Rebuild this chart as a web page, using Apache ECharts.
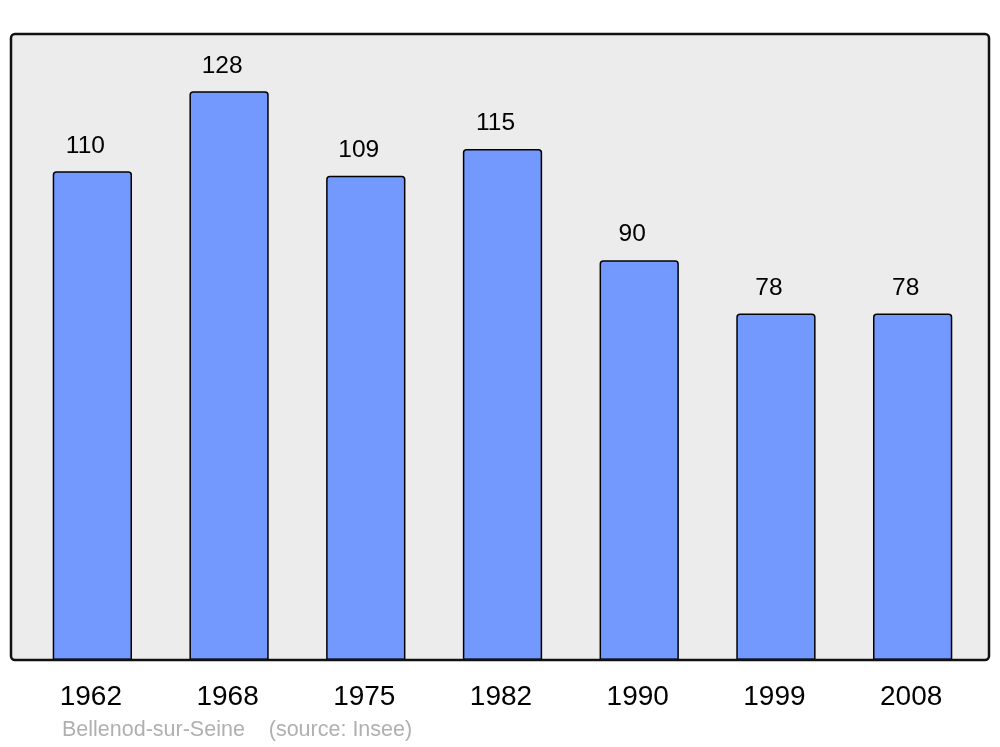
<!DOCTYPE html>
<html>
<head>
<meta charset="utf-8">
<script src="https://cdn.jsdelivr.net/npm/echarts@6/dist/echarts.min.js"></script>
<style>html,body{margin:0;padding:0;background:#fff}#c{width:1000px;height:747px}</style>
</head>
<body>
<div id="c"></div>
<script>
const years = ['1962','1968','1975','1982','1990','1999','2008'];
const population = [110,128,109,115,90,78,78];
const caption = 'Bellenod-sur-Seine    (source: Insee)';

const chart = echarts.init(document.getElementById('c'), null, {renderer:'canvas'});
chart.setOption({
  animation:false,
  backgroundColor:'#ffffff',
  textStyle:{fontFamily:'Liberation Sans, Arial, sans-serif'},
  grid:{left:24,right:19,top:34,bottom:87},
  xAxis:{
    type:'category', data:years,
    axisLine:{show:false}, axisTick:{show:false},
    axisLabel:{fontSize:28,color:'#000',margin:23,padding:[0,3,0,0],fontFamily:'Liberation Sans, Arial, sans-serif'}
  },
  yAxis:{type:'value',min:0,max:140.9,show:false,splitLine:{show:false}},
  graphic:[
    {type:'rect',z:-10,shape:{x:11,y:34,width:978,height:626,r:4},style:{fill:'#ececec',stroke:null}},
    {type:'rect',z:100,silent:true,shape:{x:11,y:34,width:978,height:626,r:4},style:{fill:null,stroke:'#111',lineWidth:2.5}},
    {type:'text',left:62,top:719,style:{text:caption,fill:'#b0b0b0',fontSize:21.5,fontFamily:'Liberation Sans, Arial, sans-serif'}}
  ],
  series:[{
    type:'bar', data:population, barWidth:'58%',
    itemStyle:{color:'#7399ff',borderColor:'#000',borderWidth:1.5,borderRadius:[3,3,0,0]},
    label:{show:true,position:'top',distance:13,offset:[-7,0],fontSize:24.5,color:'#000',fontFamily:'Liberation Sans, Arial, sans-serif'}
  }]
});
</script>
</body>
</html>
